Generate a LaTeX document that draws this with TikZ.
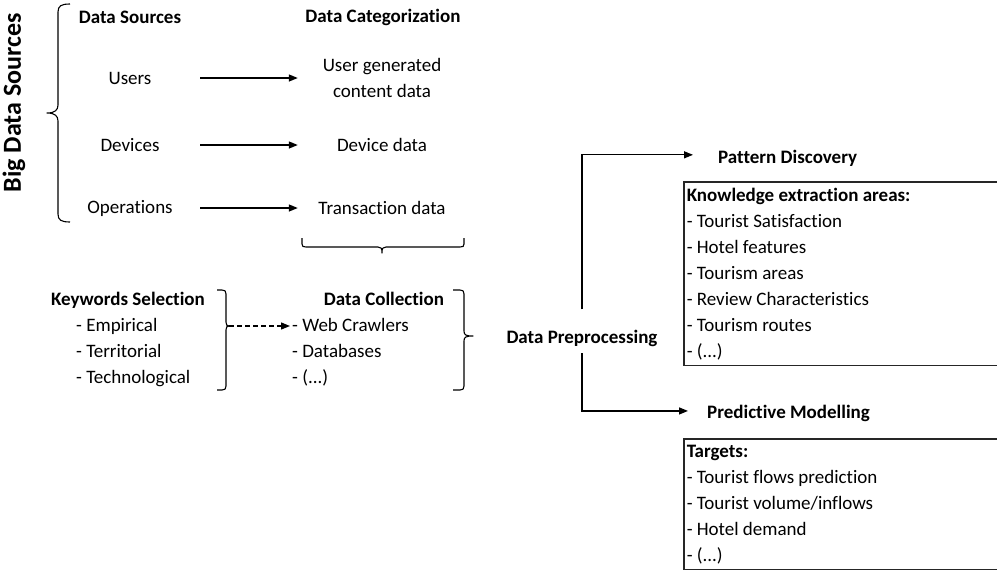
\documentclass[tikz,border=0pt]{standalone}
\usepackage{fontspec}
\setmainfont{Carlito}[Ligatures=NoCommon]
\usetikzlibrary{arrows.meta}
\tikzset{
  txt/.style={inner sep=0pt, font=\fontsize{19}{26}\selectfont},
  btxt/.style={txt, font=\fontsize{19}{26}\selectfont\bfseries},
  conn/.style={line width=1.3pt, -{Triangle[length=9pt,width=7pt]}},
  dconn/.style={conn, dash pattern=on 5pt off 3pt},
  brk/.style={line width=1.1pt, line join=round},
  listbox/.style={draw=black!85, line width=1.5pt, anchor=north west, align=flush left,
    text width=330pt, inner xsep=3pt, inner ysep=6pt, font=\fontsize{19}{26}\selectfont},
  srcbox/.style={txt, minimum width=140pt},
  catbox/.style={txt, minimum width=168pt, align=center}
}
\begin{document}
\begin{tikzpicture}[x=1pt,y=-1pt]
\clip (0,0) rectangle (997,571);
\fill[white] (0,0) rectangle (997,571);

% vertical title
\node[btxt, font=\fontsize{26}{30}\selectfont\bfseries, rotate=90] (bds) at (14,103) {Big Data Sources};

% big left brace
\draw[brk] (70,4) .. controls (61,4) and (58,6) .. (58,12) -- (58,105)
  .. controls (58,110) and (55,113) .. (47,113)
  .. controls (55,113) and (58,116) .. (58,121) -- (58,214)
  .. controls (58,220) and (61,222) .. (70,222);

% headers
\node[btxt] (dsh) at (130,17) {Data Sources};
\node[btxt] (dch) at (383,17) {Data Categorization};

% sources
\node[srcbox] (users) at (130,78) {Users};
\node[srcbox] (devices) at (130,145) {Devices};
\node[srcbox] (ops) at (130,208) {Operations};

% categories
\node[catbox] (ugc) at (382,78) {User generated\\content data};
\node[catbox] (dev) at (382,145) {Device data};
\node[catbox] (trans) at (382,208) {Transaction data};

\draw[conn] (users) -- (ugc);
\draw[conn] (devices) -- (dev);
\draw[conn] (ops) -- (trans);

% bottom brace
\draw[brk] (302,238) -- (302,244) .. controls (302,246.5) and (303,247) .. (306,247) -- (378,247)
  .. controls (381,247) and (382,248) .. (382,253)
  .. controls (382,248) and (383,247) .. (386,247) -- (460,247)
  .. controls (463,247) and (464,246.5) .. (464,244) -- (464,238);

% keywords selection
\node[btxt, anchor=base] (kwh) at (128,305) {Keywords Selection};
\node[txt, anchor=base west] (kw1) at (76,331) {- Empirical};
\node[txt, anchor=base west] (kw2) at (76,357) {- Territorial};
\node[txt, anchor=base west] (kw3) at (76,383) {- Technological};

% keywords bracket
\draw[brk] (217,290) -- (222,290) .. controls (225,290) and (226,291) .. (226,294) -- (226,322)
  .. controls (226,325) and (227,326) .. (229,326)
  .. controls (227,326) and (226,327) .. (226,330) -- (226,386)
  .. controls (226,389) and (225,390) .. (222,390) -- (217,390);
\coordinate (kwtip) at (229,326);

% data collection
\node[btxt, anchor=base] (dcoll) at (384,305) {Data Collection};
\node[txt, anchor=base west, inner xsep=2pt] (dc1) at (290,331) {- Web Crawlers};
\node[txt, anchor=base west, inner xsep=2pt] (dc2) at (290,357) {- Databases};
\node[txt, anchor=base west, inner xsep=2pt] (dc3) at (290,383) {- (...)};

\draw[dconn] (kwtip) -- (dc1.west |- kwtip);

% data collection bracket
\draw[brk] (453,290) -- (460,290) .. controls (463,290) and (464,291) .. (464,294) -- (464,331)
  .. controls (464,335) and (466,336) .. (473,336)
  .. controls (466,336) and (464,337) .. (464,341) -- (464,386)
  .. controls (464,389) and (463,390) .. (460,390) -- (453,390);

% data preprocessing
\node[btxt, anchor=base] (dp) at (582,343) {Data Preprocessing};

% pattern discovery
\node[btxt, anchor=base west] (pd) at (718,163) {Pattern Discovery};
\draw[conn] ([yshift=20pt]dp.north) |- ([xshift=-25pt,yshift=3pt]pd.west);

\node[listbox] (kebox) at (683,181) {\textbf{Knowledge extraction areas:}\\- Tourist Satisfaction\\- Hotel features\\- Tourism areas\\- Review Characteristics\\- Tourism routes\\- (...)};

% predictive modelling
\node[btxt, anchor=base west] (pm) at (707,418) {Predictive Modelling};
\draw[conn] ([yshift=-7pt]dp.south) |- ([xshift=-19pt,yshift=2pt]pm.west);

\node[listbox] (tgbox) at (683,438) {\textbf{Targets:}\\- Tourist flows prediction\\- Tourist volume/inflows\\- Hotel demand\\- (...)};
\end{tikzpicture}
\end{document}
